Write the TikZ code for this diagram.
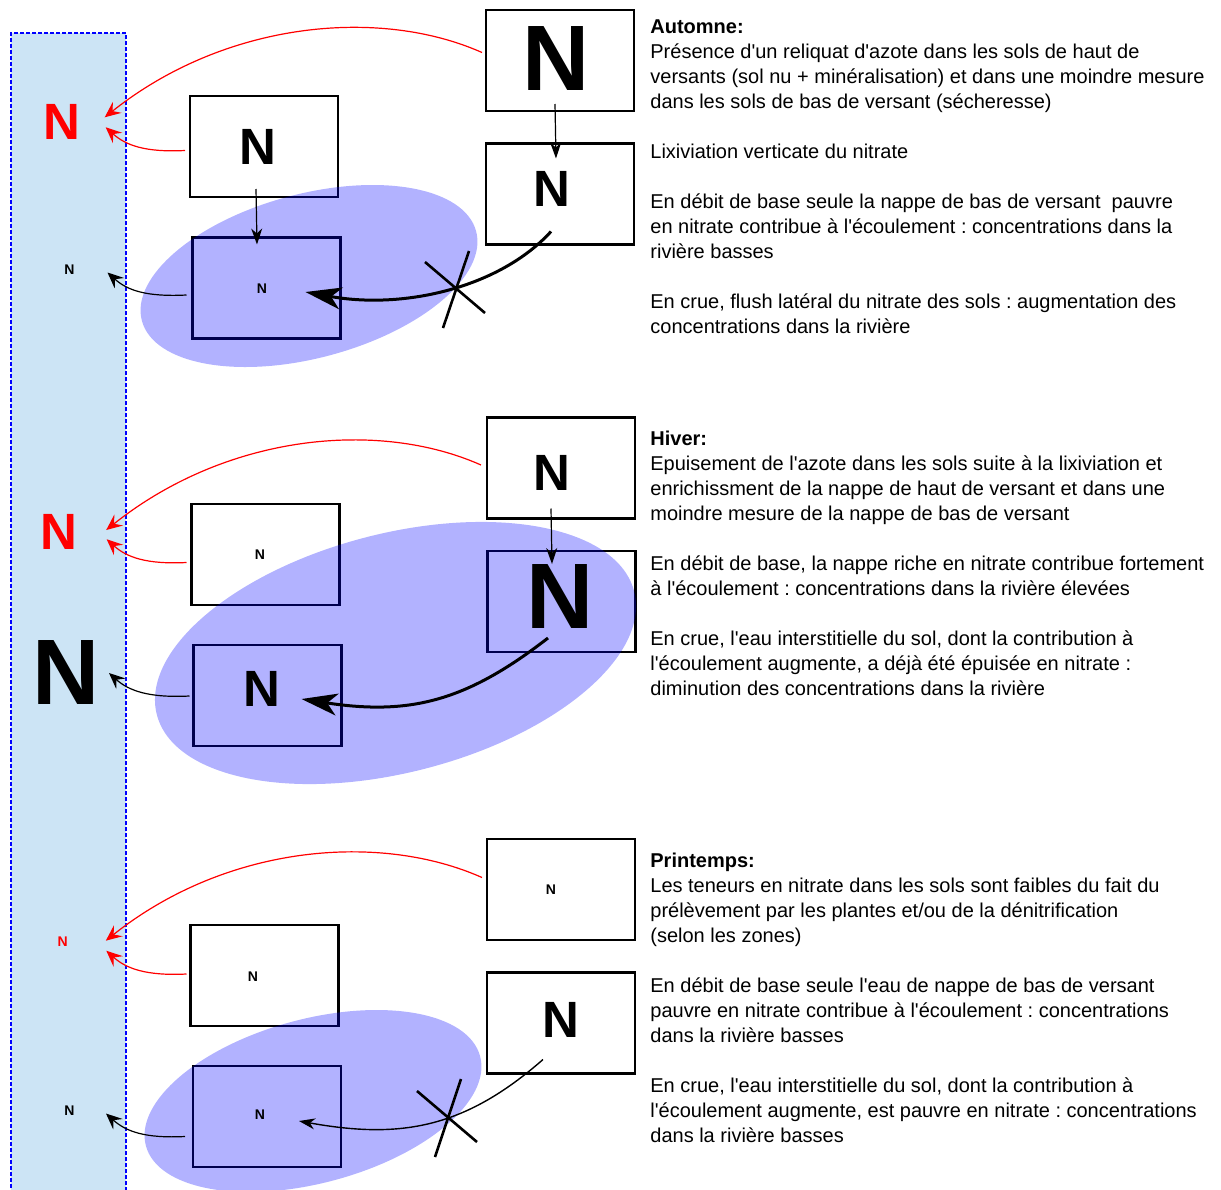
\documentclass[tikz,border=0pt]{standalone}
\usepackage{fontspec}
\setmainfont{Liberation Sans}[Ligatures=TeXOff]
\usepackage{tikz}
\usetikzlibrary{arrows.meta,calc}
\definecolor{eau}{RGB}{204,228,245}
\frenchspacing

\begin{document}
\begin{tikzpicture}[
    x=0.5pt, y=-0.5pt,
    >=Stealth,
    bac/.style={draw, line width=1.2pt, minimum width=74pt, minimum height=50.5pt, inner sep=0pt, outer sep=0pt},
    nfort/.style={inner sep=0pt, font=\bfseries\fontsize{46.5}{46.5}\selectfont},
    nmoyen/.style={inner sep=0pt, font=\bfseries\fontsize{25.5}{25.5}\selectfont},
    nfaible/.style={inner sep=0pt, font=\bfseries\fontsize{7}{7}\selectfont},
    nappe/.style={fill=blue, fill opacity=0.3},
    rive/.style={blue, line width=0.7pt, dash pattern=on 2pt off 1pt},
    fuite/.style={red, line width=0.6pt, -{Stealth[length=8pt, width=7pt, inset=3pt]}},
    sortie/.style={black, line width=0.6pt, -{Stealth[length=8pt, width=7pt, inset=3pt]}},
    chute/.style={line width=0.6pt, -{Stealth[length=8pt, width=5.5pt, inset=2.5pt]}},
    flux/.style={line width=1.5pt, -{Stealth[length=18pt, width=11pt, inset=5pt]}},
    filet/.style={line width=0.7pt, -{Stealth[length=8pt, width=5.5pt, inset=2.5pt]}},
    croix/.style={line width=1.3pt},
    texte/.style={anchor=north west, align=left, inner sep=0pt, font=\fontsize{10}{12.5}\selectfont}
  ]
    \useasboundingbox (0,0) rectangle (1221,1189);

    \fill[eau] (11,33) rectangle (126,1200);
    \draw[rive] (11,1200) -- (11,33) -- (126,33) -- (126,1200);

    \node[bac] (hs1) at (560,60.5) {};
    \node[bac] (hn1) at (560,194) {};
    \node[bac] (bs1) at (264,146.5) {};
    \node[bac] (bn1) at (266.5,288) {};
    \node[bac] (hs2) at (561,468) {};
    \node[bac] (hn2) at (561.5,601.5) {};
    \node[bac] (bs2) at (265.5,554.5) {};
    \node[bac] (bn2) at (267.5,695.5) {};
    \node[bac] (hs3) at (561,889.5) {};
    \node[bac] (hn3) at (561,1023) {};
    \node[bac] (bs3) at (264.5,975.5) {};
    \node[bac] (bn3) at (267,1116.5) {};

    \fill[nappe, rotate around={15:(309,276)}] (309,276) ellipse [x radius=173, y radius=82];
    \fill[nappe, rotate around={14.5:(395.5,653)}] (395.5,653) ellipse [x radius=246.5, y radius=119.4];
    \fill[nappe, rotate around={15:(313,1101)}] (313,1101) ellipse [x radius=173, y radius=82];

    \node[nfort] (Nhs1) at (556,58.5) {N};
    \node[nmoyen] (Nhn1) at (552,189) {N};
    \node[nmoyen] (Nbs1) at (258,147) {N};
    \node[nfaible] (Nbn1) at (262,289) {N};
    \node[nmoyen] (Nhs2) at (552,472.5) {N};
    \node[nfort] (Nhn2) at (560,596) {N};
    \node[nfaible] (Nbs2) at (260,555) {N};
    \node[nmoyen] (Nbn2) at (262,688.5) {N};
    \node[nfaible] (Nhs3) at (551,890) {N};
    \node[nmoyen] (Nhn3) at (560.5,1019.5) {N};
    \node[nfaible] (Nbs3) at (253,977) {N};
    \node[nfaible] (Nbn3) at (260,1115) {N};

    \node[nmoyen, red] (rs1) at (61.7,122.3) {N};
    \node[nfaible] (rn1) at (69.5,269.5) {N};
    \node[nmoyen, red] (rs2) at (59.2,532) {N};
    \node[nfort] (rn2) at (66,672) {N};
    \node[nfaible, red] (rs3) at (62.8,941.7) {N};
    \node[nfaible] (rn3) at (69.5,1110.5) {N};

    \draw[chute] ($(hs1.south)+(-5,-7)$) -- ($(hn1.north)+(-4,15)$);
    \draw[chute] ($(bs1.south)+(-8,-8)$) -- ($(bn1.north)+(-9.5,7)$);
    \draw[flux] ($(hn1.south)+(-9,-13)$) .. controls +(-50,55) and +(100,18) .. ($(bn1.east)+(-35,4)$);
    \draw[croix] (425,262) -- (485,313) (469,251) -- (443,328);
    \draw[fuite] ($(hs1.west)+(-4,-8)$) .. controls +(-101,-45) and +(122,-97) .. ($(rs1)+(43,-5)$);
    \draw[fuite] ($(bs1.west)+(-5,4)$) .. controls +(-40,2) and +(20,18) .. ($(rs1)+(44,5)$);
    \draw[sortie] ($(bn1.west)+(-6,7)$) .. controls +(-40,2) and +(20,18) .. ($(rn1)+(38,3)$);

    \draw[chute] ($(hs2.south)+(-10,-10)$) -- ($(hn2.north)+(-9.5,13)$);
    \draw[flux] ($(hn2.south)+(-13.5,-14)$) .. controls +(-80,62) and +(110,17) .. ($(bn2.east)+(-40,3.5)$);
    \draw[fuite] ($(hs2.west)+(-6,-3)$) .. controls +(-101,-45) and +(122,-97) .. ($(rs2)+(47,-2)$);
    \draw[fuite] ($(bs2.west)+(-5,8)$) .. controls +(-40,2) and +(20,18) .. ($(rs2)+(47.5,7.3)$);
    \draw[sortie] ($(bn2.west)+(-4,0.5)$) .. controls +(-40,2) and +(20,18) .. ($(rn2)+(43,1)$);

    \draw[filet] ($(hn3.south)+(-18,-14)$) .. controls +(-80,70) and +(100,18) .. ($(bn3.east)+(-42,4.5)$);
    \draw[croix] (417,1091) -- (477,1142) (461,1079) -- (435,1157);
    \draw[fuite] ($(hs3.west)+(-5,-12)$) .. controls +(-101,-45) and +(122,-97) .. ($(rs3)+(43,-1)$);
    \draw[fuite] ($(bs3.west)+(-4,-1.5)$) .. controls +(-40,2) and +(20,18) .. ($(rs3)+(43.5,9)$);
    \draw[sortie] ($(bn3.west)+(-8,20)$) .. controls +(-40,2) and +(20,18) .. ($(rn3)+(36.5,3)$);

    \node[texte] (automne) at (650,19.3) {\textbf{Automne:}\\
      Présence d'un reliquat d'azote dans les sols de haut de\\
      versants (sol nu + minéralisation) et dans une moindre mesure\\
      dans les sols de bas de versant (sécheresse)\\[12.5pt]
      Lixiviation verticate du nitrate\\[12.5pt]
      En débit de base seule la nappe de bas de versant\ \ pauvre\\
      en nitrate contribue à l'écoulement : concentrations dans la\\
      rivière basses\\[12.5pt]
      En crue, flush latéral du nitrate des sols : augmentation des\\
      concentrations dans la rivière};
    \node[texte] (hiver) at (650,430.5) {\textbf{Hiver:}\\
      Epuisement de l'azote dans les sols suite à la lixiviation et\\
      enrichissment de la nappe de haut de versant et dans une\\
      moindre mesure de la nappe de bas de versant\\[12.5pt]
      En débit de base, la nappe riche en nitrate contribue fortement\\
      à l'écoulement : concentrations dans la rivière élevées\\[12.5pt]
      En crue, l'eau interstitielle du sol, dont la contribution à\\
      l'écoulement augmente, a déjà été épuisée en nitrate :\\
      diminution des concentrations dans la rivière};
    \node[texte] (printemps) at (650,852.2) {\textbf{Printemps:}\\
      Les teneurs en nitrate dans les sols sont faibles du fait du\\
      prélèvement par les plantes et/ou de la dénitrification\\
      (selon les zones)\\[12.5pt]
      En débit de base seule l'eau de nappe de bas de versant\\
      pauvre en nitrate contribue à l'écoulement : concentrations\\
      dans la rivière basses\\[12.5pt]
      En crue, l'eau interstitielle du sol, dont la contribution à\\
      l'écoulement augmente, est pauvre en nitrate : concentrations\\
      dans la rivière basses};
\end{tikzpicture}
\end{document}
